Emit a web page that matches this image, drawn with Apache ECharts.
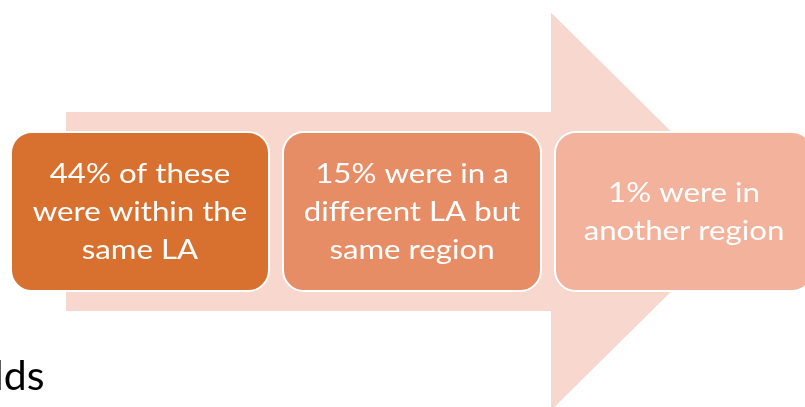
<!DOCTYPE html>
<html>
<head>
<meta charset="utf-8">
<script src="https://cdn.jsdelivr.net/npm/echarts@6/dist/echarts.min.js"></script>
<style>
  html, body { margin: 0; padding: 0; background: #fff; }
  #main { width: 805px; height: 407px; }
</style>
</head>
<body>
<div id="main"></div>
<script>
// the three steps along the arrow
var stepLabels = [
  '44% of these\nwere within the\nsame LA',
  '15% were in a\ndifferent LA but\nsame region',
  '1% were in\nanother region'
]
var stepIndex = [0, 1, 2]
var stepColors = ['#D87130', '#E68D65', '#F2B29B']
var arrowColor = '#F8D8CE'
// bit of slide title cut off at the bottom left
var cutText = 'lds'

var myChart = echarts.init(document.getElementById('main'))

var option = {
  animation: false,
  grid: { left: 4, top: 8, width: 816, height: 407, outerBoundsMode: 'none' },
  xAxis: { type: 'value', min: -0.5, max: 2.5, show: false },
  yAxis: { type: 'value', min: 0, max: 1, show: false },
  graphic: [
    {
      type: 'text',
      left: -6,
      top: 356,
      style: {
        text: cutText,
        fill: '#000',
        font: '41px Lato'
      }
    }
  ],
  series: [
    {
      // big background arrow, drawn around the middle step
      type: 'custom',
      silent: true,
      z: 1,
      data: [[1, 0.5]],
      renderItem: function (params, api) {
        var c = api.coord([api.value(0), api.value(1)])
        var cx = c[0], cy = c[1]
        return {
          type: 'polygon',
          shape: {
            points: [
              [cx - 346, cy - 99.5],
              [cx + 139, cy - 99.5],
              [cx + 139, cy - 199],
              [cx + 340, cy],
              [cx + 139, cy + 199],
              [cx + 139, cy + 99.5],
              [cx - 346, cy + 99.5]
            ]
          },
          style: { fill: arrowColor }
        }
      }
    },
    {
      type: 'custom',
      silent: true,
      z: 2,
      data: stepIndex.map(function (i) { return [i, 0.5] }),
      renderItem: function (params, api) {
        var c = api.coord([api.value(0), api.value(1)])
        var w = 258, h = 159
        return {
          type: 'group',
          children: [
            {
              type: 'rect',
              shape: { x: c[0] - w / 2, y: c[1] - h / 2, width: w, height: h, r: 21 },
              style: { fill: stepColors[params.dataIndex], stroke: '#fff', lineWidth: 2 }
            },
            {
              // the slide text is a bit stretched sideways
              type: 'text',
              x: c[0],
              y: c[1] + 1,
              scaleX: 1.2,
              style: {
                text: stepLabels[params.dataIndex],
                fill: '#fff',
                font: '26px Lato',
                lineHeight: 38,
                align: 'center',
                verticalAlign: 'middle'
              }
            }
          ]
        }
      }
    }
  ]
}

myChart.setOption(option)
</script>
</body>
</html>
